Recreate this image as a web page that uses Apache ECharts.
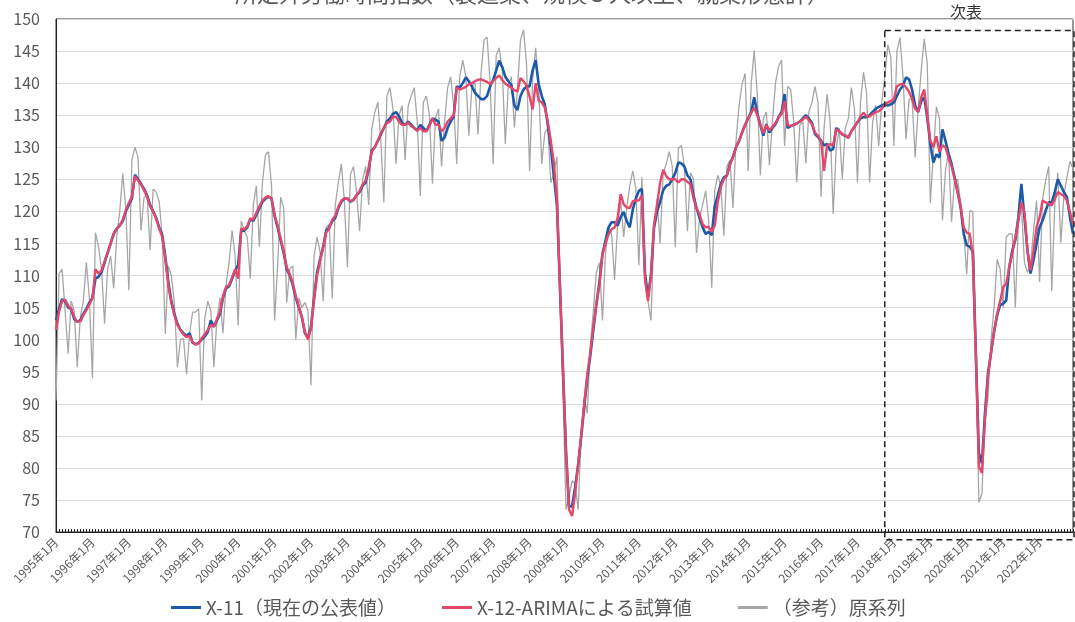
<!DOCTYPE html>
<html>
<head>
<meta charset="utf-8">
<script src="https://cdn.jsdelivr.net/npm/echarts@6/dist/echarts.min.js"></script>
<style>
  html, body { margin: 0; padding: 0; background: #fff; }
  #chart { width: 1075px; height: 622px; }
</style>
</head>
<body>
<div id="chart"></div>
<script>
var startYear = 1995;
var endYear = 2022;

// X-11 (現在の公表値), one row per year, Jan..Dec
var x11Rows = [
	[103.0, 104.8, 106.3, 106.0, 105.0, 104.8, 103.2, 102.8, 103.0, 104.0, 104.8, 105.8],
	[106.5, 109.5, 109.8, 110.5, 112.0, 113.5, 115.0, 116.5, 117.3, 117.8, 118.5, 120.0],
	[121.0, 122.0, 125.7, 125.0, 124.3, 123.5, 122.5, 121.0, 120.0, 119.0, 117.5, 116.3],
	[113.0, 109.0, 106.0, 104.0, 102.5, 101.5, 101.0, 100.6, 101.0, 99.5, 99.3, 99.5],
	[100.0, 100.5, 101.2, 103.0, 102.0, 103.0, 104.0, 106.5, 108.0, 108.3, 109.5, 110.7],
	[111.7, 117.0, 117.0, 117.5, 118.8, 118.5, 119.5, 120.5, 121.5, 122.0, 122.3, 122.0],
	[119.3, 117.5, 115.5, 113.5, 111.0, 110.0, 108.5, 106.5, 105.0, 103.5, 101.0, 100.3],
	[102.0, 106.5, 110.5, 112.5, 114.5, 117.0, 117.5, 118.5, 119.0, 120.5, 121.5, 122.0],
	[122.0, 121.5, 121.8, 122.5, 123.0, 124.0, 124.5, 126.5, 129.5, 130.0, 131.0, 132.0],
	[133.0, 134.0, 134.5, 135.2, 135.5, 134.8, 133.8, 133.5, 134.0, 133.5, 133.0, 132.6],
	[133.5, 133.0, 132.5, 133.5, 134.5, 134.3, 134.0, 131.0, 131.5, 133.0, 134.0, 134.8],
	[139.5, 139.3, 140.0, 140.9, 140.3, 139.5, 138.5, 138.0, 137.5, 137.5, 138.0, 139.5],
	[140.5, 142.0, 143.5, 142.5, 141.0, 140.3, 139.7, 136.5, 135.8, 138.0, 139.0, 139.5],
	[139.5, 142.0, 143.6, 139.8, 138.0, 136.7, 133.5, 130.0, 125.5, 121.0, 108.2, 95.4],
	[82.6, 74.0, 74.0, 77.0, 80.5, 84.8, 89.5, 94.0, 97.5, 101.5, 105.5, 109.0],
	[113.4, 115.4, 117.5, 118.3, 118.3, 117.8, 119.1, 119.9, 118.5, 117.5, 120.3, 122.0],
	[123.2, 123.5, 110.5, 106.6, 110.3, 117.5, 120.0, 121.5, 123.3, 124.0, 124.2, 125.0],
	[126.0, 127.6, 127.5, 127.0, 125.6, 125.0, 122.5, 120.5, 119.0, 117.5, 116.5, 116.8],
	[116.3, 120.8, 122.5, 124.3, 125.3, 125.6, 127.4, 128.5, 130.0, 131.0, 132.3, 133.5],
	[134.5, 135.5, 137.8, 135.3, 133.5, 131.8, 133.6, 132.3, 133.0, 133.6, 134.7, 135.5],
	[138.3, 133.0, 133.3, 133.5, 133.7, 134.0, 134.5, 135.0, 134.5, 133.8, 132.1, 131.6],
	[131.0, 130.3, 130.5, 129.5, 129.7, 133.0, 132.5, 132.0, 131.8, 131.5, 132.5, 133.2],
	[133.9, 134.5, 134.7, 134.7, 135.0, 135.5, 136.0, 136.3, 136.5, 136.7, 136.5, 136.7],
	[137.0, 138.0, 139.0, 139.6, 140.9, 140.6, 139.0, 136.5, 135.5, 137.2, 137.8, 134.6],
	[130.5, 127.6, 128.9, 128.4, 132.8, 131.0, 129.0, 127.4, 125.3, 123.0, 120.6, 116.5],
	[114.7, 114.5, 113.7, 97.9, 82.3, 80.7, 88.5, 94.8, 97.9, 101.2, 103.8, 105.4],
	[105.6, 106.1, 111.3, 113.9, 115.5, 119.1, 124.3, 119.1, 113.9, 110.3, 112.4, 115.0],
	[117.5, 118.6, 120.1, 121.4, 121.4, 123.0, 125.0, 124.0, 123.0, 122.2, 119.1, 116.5]
];

// X-12-ARIMA による試算値
var x12Rows = [
	[101.5, 104.3, 106.0, 106.2, 105.3, 104.8, 103.5, 102.8, 102.8, 103.8, 104.6, 105.5],
	[106.5, 111.0, 110.3, 110.8, 112.2, 113.6, 115.0, 116.5, 117.3, 117.8, 118.7, 120.2],
	[121.3, 122.3, 125.5, 124.8, 124.2, 123.3, 122.3, 120.8, 120.0, 118.8, 117.3, 116.0],
	[112.5, 108.5, 105.7, 103.8, 102.3, 101.5, 100.8, 100.4, 100.6, 99.6, 99.2, 99.4],
	[100.2, 100.8, 101.5, 102.3, 102.0, 103.2, 104.3, 106.8, 108.2, 108.5, 109.7, 111.0],
	[109.5, 117.3, 117.2, 117.7, 118.9, 118.7, 119.8, 120.8, 121.7, 122.2, 122.4, 122.0],
	[119.5, 117.8, 115.8, 113.8, 111.3, 110.2, 108.8, 106.8, 105.2, 103.5, 101.2, 100.0],
	[101.8, 106.2, 110.0, 112.3, 114.3, 116.7, 117.3, 118.7, 119.3, 120.7, 121.7, 122.0],
	[122.0, 121.6, 121.8, 122.5, 123.2, 124.2, 124.8, 126.8, 129.3, 130.0, 131.0, 132.2],
	[133.0, 133.8, 134.0, 134.8, 134.7, 134.0, 133.5, 133.5, 133.8, 133.3, 133.0, 132.6],
	[133.0, 132.5, 132.5, 133.3, 134.5, 133.5, 133.5, 132.5, 133.0, 134.0, 134.5, 135.0],
	[139.3, 139.0, 139.2, 139.4, 139.8, 140.0, 140.3, 140.5, 140.6, 140.4, 140.2, 139.8],
	[140.3, 140.8, 141.2, 140.5, 139.9, 139.6, 139.3, 138.9, 138.7, 140.8, 140.3, 139.6],
	[137.9, 135.9, 140.0, 137.3, 137.0, 136.2, 134.0, 131.0, 127.5, 122.0, 108.5, 95.0],
	[82.5, 73.5, 72.5, 76.0, 80.5, 85.2, 90.0, 94.5, 98.0, 102.0, 105.5, 108.5],
	[113.2, 115.0, 116.4, 117.2, 117.5, 119.0, 122.7, 121.1, 120.6, 120.5, 121.6, 121.7],
	[121.7, 122.5, 109.5, 106.0, 110.0, 118.0, 121.0, 124.5, 126.5, 125.5, 125.0, 125.0],
	[125.0, 124.5, 125.0, 125.0, 124.6, 124.2, 122.0, 120.5, 119.5, 118.0, 117.5, 117.6],
	[116.8, 117.8, 121.5, 123.8, 125.0, 125.6, 127.2, 128.5, 130.0, 131.0, 132.3, 133.5],
	[134.5, 135.3, 136.2, 135.0, 133.5, 132.2, 133.5, 132.6, 133.2, 133.8, 134.6, 135.2],
	[137.2, 133.5, 133.3, 133.5, 133.7, 134.0, 134.3, 134.8, 134.2, 133.6, 132.3, 131.8],
	[131.0, 126.3, 130.3, 130.5, 130.3, 132.8, 132.5, 132.0, 131.8, 131.5, 132.5, 133.2],
	[133.9, 134.8, 135.4, 134.8, 134.8, 135.2, 135.5, 135.6, 136.0, 136.6, 137.0, 137.2],
	[137.5, 139.5, 139.8, 139.9, 139.3, 138.7, 137.5, 136.0, 135.5, 137.8, 139.0, 135.0],
	[131.0, 130.0, 131.7, 129.3, 130.3, 130.0, 128.4, 127.0, 125.0, 123.0, 120.8, 117.5],
	[116.7, 116.5, 113.2, 97.5, 80.2, 79.2, 87.5, 94.3, 98.0, 101.3, 104.0, 106.0],
	[108.2, 108.7, 111.3, 113.4, 116.0, 118.6, 121.4, 119.9, 113.9, 110.8, 113.9, 117.5],
	[119.1, 121.7, 121.4, 121.2, 120.9, 121.9, 123.0, 122.7, 122.4, 121.7, 119.9, 118.0]
];

// （参考）原系列
var origRows = [
	[90.5, 110.3, 111.0, 104.5, 97.8, 106.0, 104.5, 95.7, 103.5, 106.0, 112.0, 106.5],
	[94.0, 116.7, 114.5, 111.0, 102.5, 111.0, 113.0, 108.0, 116.0, 120.0, 125.9, 120.5],
	[107.7, 128.0, 130.0, 128.5, 117.0, 122.2, 122.5, 114.0, 123.5, 123.0, 121.5, 116.0],
	[100.9, 111.5, 110.0, 105.7, 95.7, 100.0, 100.2, 94.6, 101.0, 104.3, 104.3, 104.8],
	[90.5, 103.3, 106.0, 104.5, 95.7, 103.0, 106.5, 101.0, 108.5, 112.0, 117.0, 113.0],
	[102.2, 118.5, 117.0, 116.0, 109.5, 121.0, 124.0, 114.5, 124.5, 128.8, 129.3, 124.0],
	[103.0, 111.5, 122.2, 120.5, 105.8, 111.0, 111.5, 100.0, 106.5, 105.0, 105.8, 104.5],
	[92.9, 113.0, 116.0, 113.7, 106.0, 117.5, 118.0, 106.4, 121.0, 124.5, 127.4, 121.5],
	[111.3, 125.8, 127.0, 123.0, 116.9, 125.0, 127.0, 121.0, 132.8, 135.4, 137.0, 131.0],
	[121.4, 138.0, 139.3, 136.0, 127.4, 135.0, 136.5, 128.0, 136.4, 138.0, 139.3, 134.0],
	[122.4, 137.0, 138.0, 135.0, 124.3, 134.5, 136.0, 127.0, 134.0, 139.3, 141.0, 136.5],
	[127.4, 141.0, 143.6, 141.0, 131.8, 139.5, 140.0, 132.0, 141.5, 146.7, 147.2, 140.0],
	[127.4, 144.3, 145.5, 142.0, 130.5, 139.7, 141.0, 133.1, 139.0, 146.7, 148.3, 143.0],
	[126.3, 140.5, 145.5, 139.0, 127.4, 132.2, 133.0, 124.5, 126.0, 128.5, 107.0, 92.0],
	[73.5, 75.5, 78.0, 77.5, 73.5, 85.0, 91.0, 88.5, 99.0, 104.5, 110.5, 112.0],
	[103.0, 113.4, 117.5, 116.5, 109.3, 118.0, 121.5, 116.0, 120.5, 124.0, 126.3, 123.5],
	[111.6, 125.3, 109.0, 106.0, 103.0, 117.5, 122.0, 115.0, 125.9, 127.4, 129.3, 127.0],
	[114.4, 129.8, 130.3, 127.0, 116.9, 126.0, 125.0, 113.5, 119.0, 121.0, 123.2, 118.5],
	[108.1, 123.3, 125.6, 124.0, 116.2, 127.0, 128.0, 120.5, 131.0, 136.5, 139.9, 141.5],
	[126.3, 139.9, 145.1, 138.3, 125.6, 134.5, 135.5, 127.2, 134.0, 140.0, 142.6, 143.6],
	[130.2, 139.5, 139.0, 134.0, 124.5, 133.4, 134.0, 127.5, 135.5, 137.0, 139.5, 137.0],
	[122.3, 133.0, 138.3, 134.0, 119.6, 129.8, 133.0, 125.0, 133.0, 134.5, 139.3, 136.0],
	[124.5, 137.0, 141.7, 138.5, 124.5, 134.0, 136.5, 130.2, 137.0, 141.0, 146.0, 144.0],
	[130.2, 145.0, 147.1, 141.0, 131.2, 137.5, 137.5, 128.4, 136.0, 142.0, 146.9, 143.0],
	[121.3, 129.0, 136.3, 134.5, 118.6, 126.5, 129.0, 118.4, 124.9, 125.0, 121.3, 117.0],
	[110.2, 120.1, 120.0, 98.0, 74.6, 76.0, 87.0, 91.0, 100.0, 105.0, 112.5, 111.0],
	[105.0, 116.0, 116.5, 116.5, 105.0, 118.0, 121.0, 112.0, 110.5, 111.5, 117.0, 121.7],
	[109.0, 122.0, 124.8, 127.0, 107.6, 121.0, 126.0, 115.1, 122.5, 125.3, 127.8, 126.7]
];

var seriesNames = ['X-11（現在の公表値）', 'X-12-ARIMAによる試算値', '（参考）原系列'];
var titleText = '所定外労働時間指数（製造業、規模５人以上、就業形態計）';
var boxLabel = '次表';
var boxStart = '2017年10月';

var categories = [];
for (var y = startYear; y <= endYear; y++) {
	for (var m = 1; m <= 12; m++) {
		categories.push(y + '年' + m + '月');
	}
}

function flatten(rows) {
	var out = [];
	for (var i = 0; i < rows.length; i++) out = out.concat(rows[i]);
	return out;
}

var x11Data = flatten(x11Rows);
var x12Data = flatten(x12Rows);
var origData = flatten(origRows);

var font = '"Noto Sans CJK JP", "Noto Sans", sans-serif';
var textColor = '#595959';

var chart = echarts.init(document.getElementById('chart'), null, { renderer: 'canvas' });

var option = {
	animation: false,
	backgroundColor: '#fff',
	textStyle: { fontFamily: font },
	grid: {
		left: 56, right: 2, top: 19, bottom: 90,
		show: true, borderColor: '#333', borderWidth: 1
	},
	legend: {
		data: seriesNames,
		left: 166,
		top: 593,
		icon: 'rect',
		itemWidth: 30,
		itemHeight: 3,
		itemGap: 46,
		textStyle: { fontSize: 19, color: textColor, fontFamily: font }
	},
	xAxis: {
		type: 'category',
		data: categories,
		boundaryGap: false,
		axisLine: { lineStyle: { color: '#222', width: 1 } },
		axisTick: { interval: 0, inside: true, length: 3, lineStyle: { color: '#222' } },
		axisLabel: {
			interval: 11,
			rotate: 45,
			fontSize: 12,
			color: textColor,
			margin: 8,
			fontFamily: font
		},
		splitLine: { show: false }
	},
	yAxis: {
		type: 'value',
		min: 70,
		max: 150,
		interval: 5,
		axisLine: { show: true, lineStyle: { color: '#222' } },
		axisTick: { show: false },
		axisLabel: { fontSize: 16, color: textColor, margin: 16, fontFamily: font },
		splitLine: { lineStyle: { color: '#d9d9d9', width: 1 } }
	},
	series: [
		{
			name: seriesNames[2],
			type: 'line',
			data: origData,
			symbol: 'none',
			lineStyle: { color: '#a6a6a6', width: 1.3 },
			itemStyle: { color: '#a6a6a6' },
			z: 2
		},
		{
			name: seriesNames[0],
			type: 'line',
			data: x11Data,
			symbol: 'none',
			lineStyle: { color: '#1a5aa8', width: 2.6 },
			itemStyle: { color: '#1a5aa8' },
			z: 3
		},
		{
			name: seriesNames[1],
			type: 'line',
			data: x12Data,
			symbol: 'none',
			lineStyle: { color: '#e5476b', width: 2.4 },
			itemStyle: { color: '#e5476b' },
			z: 4
		}
	]
};

chart.setOption(option);

// dashed frame and caption, placed through the chart's own scales
var pLeft = chart.convertToPixel({ xAxisIndex: 0 }, boxStart);
var pRight = chart.convertToPixel({ xAxisIndex: 0 }, categories[categories.length - 1]);
var pTop = chart.convertToPixel({ yAxisIndex: 0 }, 148.2);
var pBottom = chart.convertToPixel({ yAxisIndex: 0 }, 68.8);

chart.setOption({
	graphic: [
		{
			id: 'title',
			type: 'text',
			left: 235,
			top: -17,
			silent: true,
			style: { text: titleText, fontSize: 22, fill: textColor, fontFamily: font }
		},
		{
			id: 'box',
			type: 'rect',
			silent: true,
			z: 10,
			shape: { x: pLeft, y: pTop, width: pRight - pLeft + 1, height: pBottom - pTop },
			style: { fill: 'none', stroke: '#222', lineWidth: 1.5, lineDash: [6, 4] }
		},
		{
			id: 'boxLabel',
			type: 'text',
			silent: true,
			x: (pLeft + pRight) / 2 - 13,
			y: 12,
			style: {
				text: boxLabel, fontSize: 16, fill: '#333', fontFamily: font,
				align: 'center', verticalAlign: 'middle'
			}
		}
	]
});
</script>
</body>
</html>
